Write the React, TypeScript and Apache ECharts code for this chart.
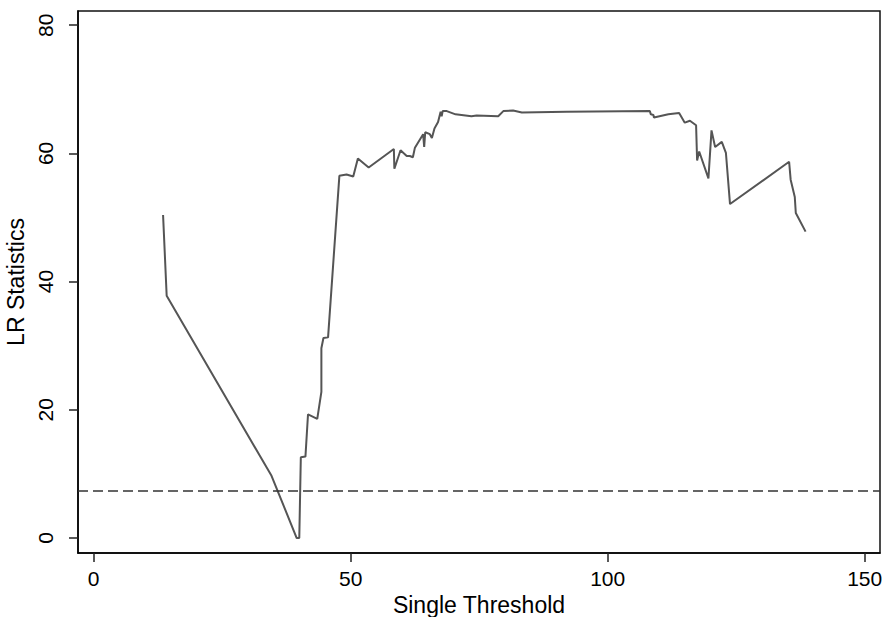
import React, { useEffect, useRef } from "react";
import * as echarts from "echarts";

const xValues = [
  13.5, 14.2, 34.6, 39.5, 40.0, 40.3, 41.2, 41.7, 43.5, 44.3, 44.3, 44.7, 45.6,
  47.8, 49.2, 50.5, 51.4, 53.5, 58.4, 58.5, 59.7, 60.9, 61.5, 62.1, 62.5, 64.1,
  64.3, 64.5, 65.4, 65.8, 66.3, 67.0, 67.5, 67.7, 67.9, 68.7, 70.4, 73.5, 74.5,
  78.7, 79.7, 81.6, 83.3, 92.0, 108.2, 108.4, 108.9, 109.0, 111.8, 113.9, 115.0,
  116.0, 117.2, 117.4, 117.8, 119.6, 120.2, 120.9, 122.2, 123.0, 123.8, 135.3,
  135.6, 136.4, 136.6, 138.5,
];
const lrValues = [
  50.4, 37.8, 9.7, 0.0, 0.0, 12.6, 12.7, 19.3, 18.6, 22.8, 29.6, 31.2, 31.3,
  56.5, 56.7, 56.4, 59.2, 57.8, 60.7, 57.6, 60.5, 59.6, 59.6, 59.4, 60.9, 63.0,
  61.0, 63.3, 63.0, 62.4, 63.9, 64.9, 66.5, 65.8, 66.6, 66.6, 66.1, 65.8, 65.9,
  65.8, 66.6, 66.7, 66.4, 66.5, 66.6, 66.1, 66.0, 65.6, 66.1, 66.3, 64.8,
  65.1, 64.4, 58.9, 60.3, 56.1, 63.6, 61.0, 61.8, 60.1, 52.1, 58.7,
  55.9, 53.2, 50.7, 47.8,
];
const criticalValue = 7.33;
const xTicks = [0, 50, 100, 150];
const yTicks = [0, 20, 40, 60, 80];

const FONT = "'Liberation Sans', Arial, Helvetica, sans-serif";

export default function App() {
  const ref = useRef<HTMLDivElement>(null);
  useEffect(() => {
    if (!ref.current) return;
    const chart = echarts.init(ref.current, null, { renderer: "svg" });
    const data = xValues.map((x, i) => [x, lrValues[i]]);
    chart.setOption({
      animation: false,
      backgroundColor: "#ffffff",
      textStyle: { fontFamily: FONT },
      grid: {
        left: 78,
        right: 9,
        top: 11,
        bottom: 64,
        outerBoundsMode: "none",
        containLabel: false,
        show: true,
        borderColor: "#111",
        borderWidth: 1.5,
        backgroundColor: "#ffffff",
      },
      xAxis: {
        type: "value",
        min: -3.05,
        max: 152.98,
        name: "Single Threshold",
        nameLocation: "middle",
        nameGap: 39,
        nameTextStyle: { fontSize: 23, color: "#000", fontFamily: FONT },
        axisLine: { show: true, onZero: false, lineStyle: { color: "#000", width: 1.5 } },
        axisTick: { show: true, length: 9, customValues: xTicks, lineStyle: { color: "#222", width: 1.5 } },
        axisLabel: { customValues: xTicks, fontSize: 21, color: "#000", margin: 15, fontFamily: FONT },
        splitLine: { show: false },
      },
      yAxis: {
        type: "value",
        min: -2.34,
        max: 82.22,
        name: "LR Statistics",
        nameLocation: "middle",
        nameGap: 45,
        nameRotate: 90,
        nameTextStyle: { fontSize: 23, color: "#000", fontFamily: FONT },
        axisLine: { show: true, onZero: false, lineStyle: { color: "#000", width: 1.5 } },
        axisTick: { show: true, length: 9, customValues: yTicks, lineStyle: { color: "#222", width: 1.5 } },
        axisLabel: { customValues: yTicks, fontSize: 21, color: "#000", margin: 22, rotate: 90, fontFamily: FONT },
        splitLine: { show: false },
      },
      series: [
        {
          type: "line",
          data,
          showSymbol: false,
          symbol: "none",
          lineStyle: { color: "#555555", width: 2 },
          markLine: {
            silent: true,
            symbol: ["none", "none"],
            label: { show: false },
            lineStyle: { color: "#333", width: 1.6, type: [10, 5] },
            data: [{ yAxis: criticalValue }],
          },
        },
      ],
    });
    return () => chart.dispose();
  }, []);
  return (
    <div
      ref={ref}
      style={{ position: "fixed", left: 0, top: 0, width: 889, height: 617 }}
    />
  );
}
